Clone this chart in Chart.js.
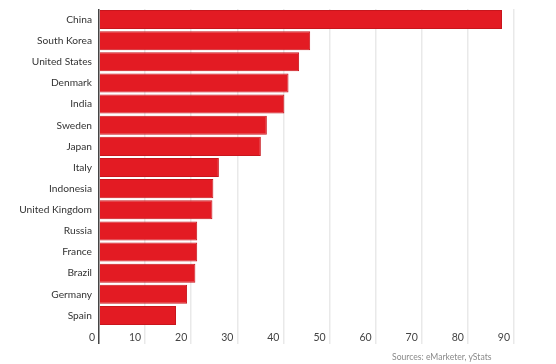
<!DOCTYPE html>
<html>
<head>
<meta charset="utf-8">
<script src="https://cdn.jsdelivr.net/npm/chart.js@4/dist/chart.umd.min.js"></script>
<style>
    html, body { margin: 0; padding: 0; background: #fff; }
    #wrap { position: relative; width: 556px; height: 364px; }
    #fuente {
        position: absolute; left: 392px; top: 352px;
        font-family: Lato, sans-serif; font-size: 8.6px; color: #8a8a8a;
        white-space: nowrap;
    }
</style>
</head>
<body>
<div id="wrap">
    <canvas id="grafica" width="556" height="364"></canvas>
    <div id="fuente">Sources: eMarketer, yStats</div>
</div>
<script>
// datos
var paises = ['China', 'South Korea', 'United States', 'Denmark', 'India', 'Sweden', 'Japan',
    'Italy', 'Indonesia', 'United Kingdom', 'Russia', 'France', 'Brazil', 'Germany', 'Spain'];
var valores = [87.4, 45.8, 43.4, 41.1, 40.2, 36.4, 35.1, 26.0, 24.8, 24.6, 21.3, 21.3, 20.9, 19.1, 16.7];
var ticksX = [0, 10, 20, 30, 40, 50, 60, 70, 80, 90];

var ctx = document.getElementById('grafica');

new Chart(ctx, {
    type: 'bar',
    data: {
        labels: paises,
        datasets: [{
            data: valores,
            backgroundColor: '#e31b23',
            borderColor: '#c8161d',
            borderWidth: 1,
            borderSkipped: 'left',
            barPercentage: 0.9,
            categoryPercentage: 1
        }]
    },
    options: {
        indexAxis: 'y',
        responsive: false,
        animation: false,
        layout: { padding: { top: 9, right: 42, bottom: 0, left: 0 } },
        plugins: {
            legend: { display: false },
            tooltip: { enabled: false }
        },
        scales: {
            x: {
                min: 0,
                max: 90,
                afterBuildTicks: function (s) {
                    s.ticks = ticksX.map(function (v) { return { value: v }; });
                },
                afterFit: function (s) { s.height = 38; },
                grid: {
                    color: function (c) { return c.tick && c.tick.value === 0 ? '#444' : '#e9e9e9'; },
                    lineWidth: 1.5,
                    drawTicks: true,
                    tickLength: 18
                },
                border: { display: false },
                ticks: {
                    align: 'end',
                    labelOffset: -4,
                    padding: -13,
                    color: '#444',
                    font: { family: 'Lato', size: 10.5 }
                }
            },
            y: {
                afterFit: function (s) {
                    s.width = 99;
                    s.paddingTop = 0;
                    s.paddingBottom = 0;
                },
                grid: { display: false, drawTicks: false },
                border: { display: false },
                ticks: {
                    padding: 7,
                    color: '#333',
                    font: { family: 'Lato', size: 10.2 }
                }
            }
        }
    }
});
</script>
</body>
</html>
